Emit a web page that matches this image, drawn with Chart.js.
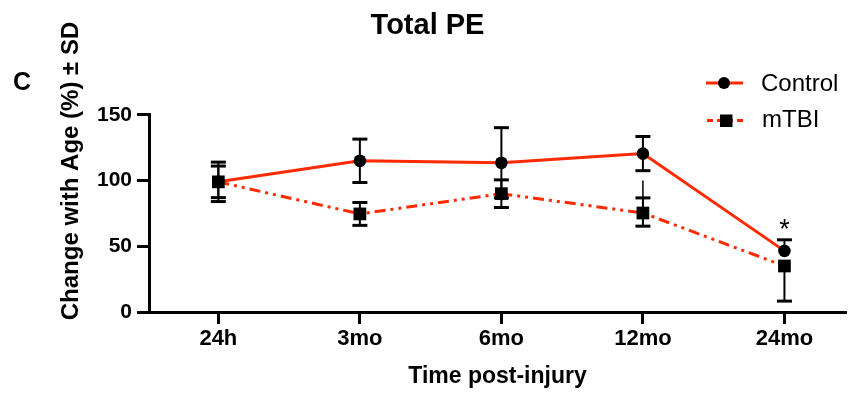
<!DOCTYPE html>
<html>
<head>
<meta charset="utf-8">
<script src="https://cdn.jsdelivr.net/npm/chart.js@4.4.0/dist/chart.umd.min.js"></script>
<style>
  html, body { margin: 0; padding: 0; background: #fff; }
  #wrap { width: 855px; height: 396px; }
</style>
</head>
<body>
<div id="wrap"><canvas id="peChart" width="855" height="396"></canvas></div>
<script>
"use strict";

const timeLabels = ["24h", "3mo", "6mo", "12mo", "24mo"];
const yTickValues = [0, 50, 100, 150];

const controlMeans = [99, 115, 113.5, 120.5, 46.5];
const controlSdUp = [15, 16.5, 26.7, 13, 8.4];
const controlSdDown = [15, 16.5, 26.7, 13, null];

const mtbiMeans = [99, 74.6, 90, 75.3, 35];
const mtbiSdUp = [12, 8.7, 10.5, 11.5, null];
const mtbiSdDown = [12, 8.7, 10.5, 10, 26.7];
const mtbiWhiskerTop = [null, null, null, 100, null];

const significance = ["", "", "", "", "*"];

const FONT = "'Liberation Sans', Arial, Helvetica, sans-serif";
const RED = "#ff2a00";

const toPoints = (arr) => arr.map((v, i) => ({ x: i, y: v }));

const errorBars = [
  { dataset: 0, means: controlMeans, up: controlSdUp, down: controlSdDown, extra: null },
  { dataset: 1, means: mtbiMeans, up: mtbiSdUp, down: mtbiSdDown, extra: mtbiWhiskerTop },
];

const decorPlugin = {
  id: "decor",
  afterDatasetsDraw(chart) {
    const ctx = chart.ctx;
    const yScale = chart.scales.y;
    ctx.save();
    ctx.strokeStyle = "#000";
    ctx.lineCap = "butt";

    // error bars
    errorBars.forEach((eb) => {
      const meta = chart.getDatasetMeta(eb.dataset);
      eb.means.forEach((m, i) => {
        const x = meta.data[i].x;
        const y0 = yScale.getPixelForValue(m);
        [eb.up[i] != null ? m + eb.up[i] : null, eb.down[i] != null ? m - eb.down[i] : null].forEach((v) => {
          if (v == null) return;
          const y1 = yScale.getPixelForValue(v);
          ctx.lineWidth = 2;
          ctx.beginPath();
          ctx.moveTo(x, y0);
          ctx.lineTo(x, y1);
          ctx.stroke();
          ctx.lineWidth = 3;
          ctx.beginPath();
          ctx.moveTo(x - 7.5, y1);
          ctx.lineTo(x + 7.5, y1);
          ctx.stroke();
        });
        if (eb.extra && eb.extra[i] != null) {
          ctx.lineWidth = 1.5;
          ctx.beginPath();
          ctx.moveTo(x, y0);
          ctx.lineTo(x, yScale.getPixelForValue(eb.extra[i]));
          ctx.stroke();
        }
      });
    });

    // significance marks
    const cMeta = chart.getDatasetMeta(0);
    ctx.fillStyle = "#000";
    ctx.font = "27px " + FONT;
    ctx.textAlign = "center";
    ctx.textBaseline = "alphabetic";
    significance.forEach((s, i) => {
      if (!s) return;
      const top = controlMeans[i] + (controlSdUp[i] || 0);
      ctx.fillText(s, cMeta.data[i].x, yScale.getPixelForValue(top) - 2);
    });

    // panel letter
    ctx.font = "bold 25px " + FONT;
    ctx.fillText("C", 22, 90);

    // y axis title
    ctx.save();
    ctx.translate(77.5, 171);
    ctx.rotate(-Math.PI / 2);
    ctx.font = "bold 24px " + FONT;
    ctx.fillText("Change with Age (%) \u00b1 SD", 0, 0);
    ctx.restore();

    // legend
    ctx.textAlign = "left";
    ctx.font = "24px " + FONT;
    ctx.strokeStyle = RED;
    ctx.lineWidth = 3;
    ctx.beginPath();
    ctx.moveTo(706, 83);
    ctx.lineTo(743, 83);
    ctx.stroke();
    ctx.beginPath();
    ctx.arc(724, 83, 6, 0, Math.PI * 2);
    ctx.fill();
    ctx.fillText("Control", 761, 91);

    ctx.setLineDash([6, 4]);
    ctx.beginPath();
    ctx.moveTo(707, 120.5);
    ctx.lineTo(745, 120.5);
    ctx.stroke();
    ctx.setLineDash([]);
    ctx.fillRect(720, 114.5, 12.5, 12.5);
    ctx.fillText("mTBI", 762, 127);

    ctx.restore();
  },
};

document.addEventListener("DOMContentLoaded", () => {
  const ctx = document.getElementById("peChart").getContext("2d");

  new Chart(ctx, {
    type: "line",
    data: {
      datasets: [
        {
          label: "Control",
          data: toPoints(controlMeans),
          borderColor: RED,
          borderWidth: 3,
          pointStyle: "circle",
          pointRadius: 6.3,
          pointBackgroundColor: "#000",
          pointBorderWidth: 0,
          order: 1,
          clip: false,
        },
        {
          label: "mTBI",
          data: toPoints(mtbiMeans),
          borderColor: RED,
          borderWidth: 3,
          borderDash: [11, 5, 3, 5, 3, 5],
          pointStyle: "rect",
          pointRadius: 9,
          pointBackgroundColor: "#000",
          pointBorderWidth: 0,
          order: 0,
          clip: false,
        },
      ],
    },
    options: {
      responsive: false,
      animation: false,
      layout: { padding: 0 },
      plugins: {
        legend: { display: false },
        tooltip: { enabled: false },
        title: {
          display: true,
          text: "Total PE",
          color: "#000",
          font: { family: FONT, size: 29, weight: "bold" },
          padding: { top: 9, bottom: 71 },
        },
      },
      scales: {
        x: {
          type: "linear",
          min: -0.49,
          max: 4.435,
          afterBuildTicks: (scale) => {
            scale.ticks = timeLabels.map((_, i) => ({ value: i }));
          },
          afterFit: (scale) => {
            scale.height = 84;
          },
          grid: {
            drawOnChartArea: false,
            tickLength: 12,
            tickWidth: 3,
            tickColor: "#000",
          },
          border: { display: true, color: "#000", width: 3 },
          ticks: {
            color: "#000",
            padding: 2,
            maxRotation: 0,
            autoSkip: false,
            font: { family: FONT, size: 22, weight: "bold" },
            callback: (v) => timeLabels[v] ?? "",
          },
          title: {
            display: true,
            text: "Time post-injury",
            color: "#000",
            font: { family: FONT, size: 23, weight: "bold" },
            padding: { top: 0, bottom: 6 },
          },
        },
        y: {
          min: 0,
          max: 150,
          afterBuildTicks: (scale) => {
            scale.ticks = yTickValues.map((v) => ({ value: v }));
          },
          afterFit: (scale) => {
            scale.width = 149;
          },
          grid: {
            drawOnChartArea: false,
            tickLength: 12,
            tickWidth: 3,
            tickColor: "#000",
          },
          border: { display: true, color: "#000", width: 3 },
          ticks: {
            color: "#000",
            padding: 5,
            font: { family: FONT, size: 21, weight: "bold" },
          },
        },
      },
    },
    plugins: [decorPlugin],
  });
});
</script>
</body>
</html>
